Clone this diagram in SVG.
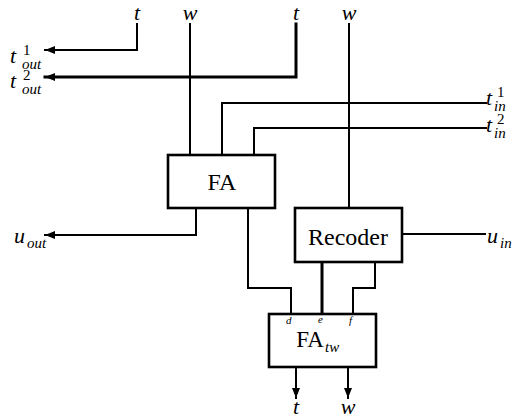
<svg xmlns="http://www.w3.org/2000/svg" width="517" height="419" viewBox="0 0 517 419">
<style>
.ln{fill:none;stroke:#000;stroke-width:2;stroke-linejoin:miter;stroke-linecap:square}
.thk{stroke-width:3}
.box{fill:#fff;stroke:#000;stroke-width:2.6}
text{font-family:'Liberation Serif','Times New Roman','DejaVu Serif',serif;fill:#000}
.m{font-style:italic;font-size:22px}
.c{text-anchor:middle}
.s{font-style:italic;font-size:15px}
.n{font-size:15px}
.xs{font-style:italic;font-size:11px}
.bt{font-size:24px;text-anchor:middle}
</style>
<defs>
<marker id="ar" markerUnits="userSpaceOnUse" markerWidth="10" markerHeight="8" refX="10" refY="4" orient="auto">
<path d="M0,0 L10,4 L0,8 z" fill="#000"/>
</marker>
</defs>
<g id="connectors">
<path class="ln" d="M137,24 V50 H45" marker-end="url(#ar)"/>
<path class="ln thk" d="M296,24 V77 H45" marker-end="url(#ar)"/>
<path class="ln" d="M190,24 V155"/>
<path class="ln" d="M349,24 V207"/>
<path class="ln" d="M486,103 H222 V155"/>
<path class="ln" d="M486,128 H254 V155"/>
<path class="ln" d="M196,208 V235 H45" marker-end="url(#ar)"/>
<path class="ln" d="M248,208 V288 H291 V314"/>
<path class="ln thk" d="M322,262 V314"/>
<path class="ln" d="M375,262 V288 H353 V314"/>
<path class="ln" d="M402,234 H485"/>
<path class="ln" d="M296,367 V398" marker-end="url(#ar)"/>
<path class="ln" d="M348,367 V398" marker-end="url(#ar)"/>
</g>
<g id="FA">
<rect class="box" x="168" y="155" width="107" height="53"/>
<text class="bt" x="222" y="190">FA</text>
</g>
<g id="Recoder">
<rect class="box" x="295" y="208" width="107" height="54"/>
<text class="bt" x="348" y="245">Recoder</text>
</g>
<g id="FAtw">
<rect class="box" x="269" y="314" width="107" height="53"/>
<text class="bt" x="310" y="347" style="font-size:23px">FA</text>
<text class="s" x="325" y="352">tw</text>
<text class="xs" x="286" y="324">d</text>
<text class="xs" x="318" y="323">e</text>
<text class="xs" x="349" y="324">f</text>
</g>
<g id="labels">
<text class="m c" x="137" y="20">t</text>
<text class="m c" x="190" y="20">w</text>
<text class="m c" x="296" y="20">t</text>
<text class="m c" x="349" y="20">w</text>
<text class="m" x="10" y="63">t</text>
<text class="n" x="23" y="55">1</text>
<text class="s" x="22" y="69">out</text>
<text class="m" x="10" y="88">t</text>
<text class="n" x="23" y="80">2</text>
<text class="s" x="22" y="94">out</text>
<text class="m" x="14" y="243">u</text>
<text class="s" x="27" y="248">out</text>
<text class="m" x="486" y="105">t</text>
<text class="n" x="497" y="97">1</text>
<text class="s" x="494" y="111">in</text>
<text class="m" x="486" y="132">t</text>
<text class="n" x="497" y="124">2</text>
<text class="s" x="494" y="138">in</text>
<text class="m" x="487" y="243">u</text>
<text class="s" x="500" y="248">in</text>
<text class="m c" x="296" y="414">t</text>
<text class="m c" x="348" y="414">w</text>
</g>
</svg>
